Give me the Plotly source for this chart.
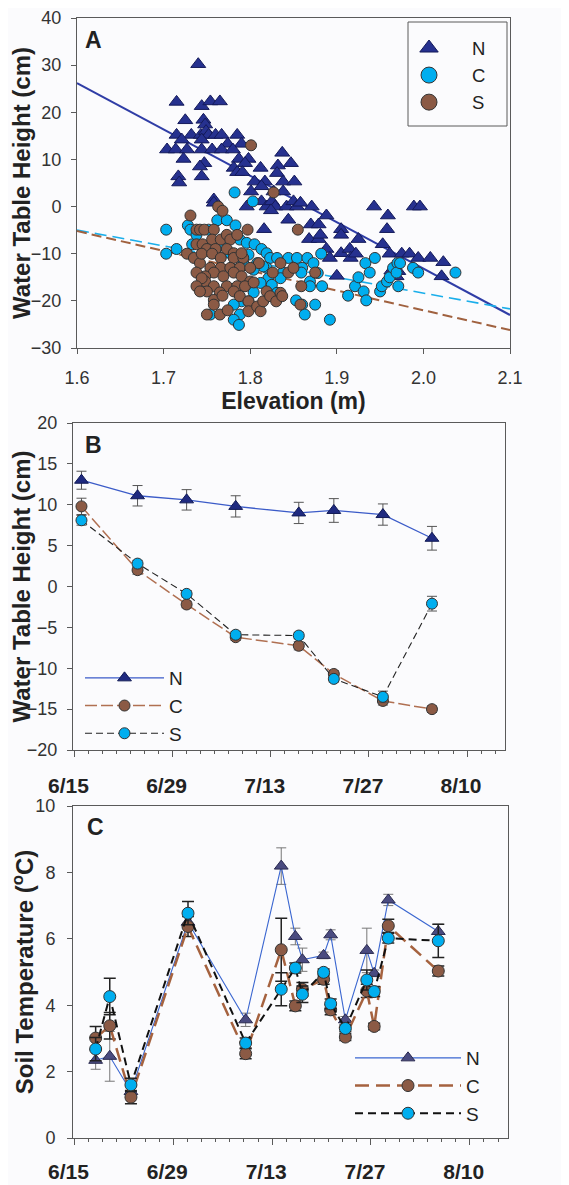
import plotly.graph_objects as go

# page shows the figure with an 8 px body margin, so the figure is sized to fit
OX, OY = 8, 8
W, H = 569 - OX, 1185 - OY

# ---------------- Panel A data (Elevation vs water table height) ----------------
nA_x = [1.740, 1.715, 1.744, 1.754, 1.765, 1.725, 1.746, 1.748, 1.715, 1.732, 1.743, 1.749,
        1.752, 1.760, 1.767, 1.785, 1.721, 1.744, 1.774, 1.790, 1.704, 1.714, 1.727, 1.744,
        1.756, 1.767, 1.780, 1.723, 1.787, 1.798, 1.747, 1.794, 1.742, 1.781, 1.785, 1.791,
        1.744, 1.717, 1.718, 1.758, 1.758, 1.812, 1.837, 1.847, 1.832, 1.831, 1.805, 1.817,
        1.838, 1.851, 1.801, 1.813, 1.827, 1.838, 1.796, 1.813, 1.819, 1.825, 1.829, 1.842,
        1.850, 1.854, 1.824, 1.858, 1.871, 1.844, 1.816, 1.870, 1.879, 1.888, 1.868, 1.879,
        1.881, 1.905, 1.905, 1.888, 1.892, 1.905, 1.915, 1.916, 1.922, 1.925, 1.900, 1.943,
        1.959, 1.958, 1.953, 1.961, 1.975, 1.984, 1.994, 2.008, 1.989, 1.996, 2.023, 2.021,
        1.969, 1.971, 1.963]
nA_y = [30.2, 22.2, 21.3, 22.3, 22.3, 18.3, 18.4, 17.4, 15.2, 15.2, 15.2, 16.0,
        15.2, 15.2, 15.2, 15.2, 14.2, 14.2, 13.3, 13.3, 12.1, 12.1, 12.1, 12.1,
        12.1, 12.1, 12.1, 10.1, 10.1, 10.1, 9.2, 9.2, 8.5, 8.2, 7.3, 7.3,
        6.4, 6.4, 5.1, 1.5, 0.8, 8.2, 11.4, 9.2, 8.7, 7.1, 5.3, 5.3,
        5.3, 5.3, 3.2, 4.3, 3.2, 3.2, 0.0, 1.1, 0.0, 1.1, 0.0, 0.0,
        1.1, 0.0, -0.8, 0.8, 0.0, -2.8, -4.8, -3.8, -3.8, -1.9, -6.9, -6.9,
        -6.0, -4.8, -6.0, -9.0, -10.9, -9.9, -9.0, -10.9, -10.0, -6.9, -14.7, 0.0,
        -1.9, -4.8, -8.0, -10.0, -10.0, -10.0, -10.9, -10.9, 0.0, 0.0, -11.8, -14.8,
        -14.8, -13.7, -13.6]

cA_x = [1.703, 1.703, 1.715, 1.728, 1.731, 1.733, 1.738, 1.752, 1.762, 1.773, 1.783, 1.782,
        1.803, 1.788, 1.796, 1.805, 1.813, 1.819, 1.823, 1.831, 1.844, 1.854, 1.866, 1.882,
        1.873, 1.860, 1.859, 1.878, 1.869, 1.869, 1.883, 1.853, 1.860, 1.875, 1.863, 1.892,
        1.819, 1.821, 1.825, 1.831, 1.812, 1.804, 1.790, 1.781, 1.788, 1.781, 1.787, 1.754,
        1.798, 1.913, 1.921, 1.925, 1.931, 1.934, 1.933, 1.938, 1.944, 1.950, 1.952, 1.958,
        1.961, 1.965, 1.970, 1.969, 1.971, 1.973, 1.988, 1.994, 2.037, 1.838, 1.835, 1.792,
        1.808, 1.798, 1.815, 1.804, 1.777, 1.767, 1.760]
cA_y = [-4.9, -10.0, -9.0, -4.0, -4.9, -8.0, -6.0, -4.9, -2.9, -2.9, -4.0, 3.0,
        1.1, -7.0, -7.7, -8.0, -9.0, -9.9, -10.9, -10.9, -10.9, -10.9, -10.9, -10.0,
        -12.0, -13.0, -14.0, -14.1, -15.9, -16.9, -16.9, -19.9, -20.8, -20.8, -22.9, -24.0,
        -13.0, -15.2, -16.6, -18.3, -16.2, -18.2, -20.1, -20.8, -22.9, -24.0, -25.1, -22.9,
        -20.1, -18.9, -16.9, -15.0, -18.0, -19.9, -12.0, -14.0, -10.9, -18.0, -16.9, -15.9,
        -15.0, -13.0, -12.0, -14.0, -16.9, -12.0, -13.0, -14.0, -14.0, -14.0, -15.2, -12.0,
        -12.0, -10.2, -12.7, -13.4, -9.9, -8.1, -9.9]

sA_x = [1.801, 1.827, 1.855, 1.797, 1.763, 1.768, 1.731, 1.727, 1.735, 1.742, 1.738, 1.742,
        1.747, 1.758, 1.738, 1.745, 1.756, 1.766, 1.773, 1.777, 1.785, 1.750, 1.760, 1.773,
        1.781, 1.744, 1.756, 1.766, 1.781, 1.792, 1.810, 1.754, 1.766, 1.777, 1.788, 1.800,
        1.758, 1.781, 1.748, 1.769, 1.790, 1.800, 1.748, 1.758, 1.773, 1.785, 1.794, 1.750,
        1.765, 1.781, 1.788, 1.758, 1.768, 1.758, 1.798, 1.798, 1.808, 1.812, 1.750, 1.765,
        1.774, 1.815, 1.819, 1.823, 1.830, 1.835, 1.837, 1.835, 1.826, 1.844, 1.850, 1.859,
        1.875, 1.858, 1.738, 1.744, 1.738, 1.742, 1.804, 1.790]
sA_y = [13.0, 3.0, -4.9, -4.9, 0.0, -0.9, -1.9, -10.0, -10.9, -12.0, -4.9, -4.9,
        -4.9, -4.9, -8.0, -8.0, -7.0, -7.0, -6.0, -7.0, -6.0, -9.0, -9.0, -9.0,
        -9.9, -10.0, -10.0, -10.9, -10.9, -10.9, -12.0, -13.0, -13.0, -13.0, -13.0, -13.0,
        -14.0, -14.0, -14.8, -14.8, -14.8, -15.9, -15.9, -16.9, -16.9, -16.9, -16.9, -18.0,
        -18.2, -18.0, -19.0, -19.8, -18.9, -20.8, -20.1, -22.2, -21.2, -22.2, -22.9, -22.9,
        -22.0, -20.1, -18.0, -19.0, -20.1, -18.3, -19.0, -12.0, -14.0, -14.0, -13.0, -16.9,
        -14.0, -20.8, -14.0, -15.2, -16.9, -18.0, -16.1, -9.9]

# regression lines (slope, intercept)
fit_x = [1.6, 2.1]
fit_N = (-98.4, 183.64)
fit_C = (-33.4, 48.44)
fit_S = (-42.0, 62.0)

# ---------------- Panel B data (water table height over time) ----------------
dates_B = ["2009-06-16", "2009-06-24", "2009-07-01", "2009-07-08",
           "2009-07-17", "2009-07-22", "2009-07-29", "2009-08-05"]
nB = [13.0, 11.1, 10.6, 9.8, 9.0, 9.3, 8.8, 5.9]
nB_err = [1.1, 1.25, 1.25, 1.3, 1.3, 1.45, 1.3, 1.45]
cB = [9.8, 2.0, -2.2, -6.2, -7.25, -10.7, -14.0, -15.0]
cB_err = [1.0, 0.5, 0.4, 0.4, 0.5, 0.4, 0.5, 0.4]
sB = [8.1, 2.8, -0.9, -5.9, -6.0, -11.3, -13.5, -2.1]
sB_err = [0.6, 0.4, 0.4, 0.4, 0.4, 0.4, 0.7, 0.9]

# ---------------- Panel C data (soil temperature over time) ----------------
dates_C = ["2009-06-18", "2009-06-20", "2009-06-23", "2009-07-01 02:00", "2009-07-09 06:00",
           "2009-07-14 07:00", "2009-07-16 07:00", "2009-07-17 07:00", "2009-07-20 07:00",
           "2009-07-21 07:00", "2009-07-23 09:00", "2009-07-26 10:00", "2009-07-27 11:00",
           "2009-07-29 11:00", "2009-08-05 13:00"]
nC = [2.34, 2.46, 1.40, 6.50, 3.56, 8.19, 6.07, 5.37, 5.50, 6.12, 3.56, 5.65, 4.96, 7.17, 6.22]
nC_err = [0.27, 0.75, 0.15, 0.25, 0.2, 0.55, 0.25, 0.35, 0.1, 0.15, 0.1, 0.67, 0.1, 0.17, 0.22]
cC = [3.01, 3.38, 1.23, 6.37, 2.54, 5.67, 3.98, 4.48, 4.78, 3.86, 3.04, 4.43, 3.36, 6.39, 5.03]
cC_err = [0.35, 0.4, 0.2, 0.3, 0.15, 0.95, 0.15, 0.2, 0.15, 0.15, 0.1, 0.2, 0.1, 0.2, 0.15]
sC = [2.68, 4.26, 1.60, 6.77, 2.86, 4.48, 5.12, 4.33, 4.99, 4.04, 3.30, 4.76, 4.41, 6.02, 5.94]
sC_err = [0.35, 0.55, 0.2, 0.35, 0.15, 0.5, 0.15, 0.25, 0.1, 0.15, 0.1, 0.3, 0.15, 0.15, 0.5]

# tick values
A_xticks = [1.6, 1.7, 1.8, 1.9, 2.0, 2.1]
A_yticks = [-30, -20, -10, 0, 10, 20, 30, 40]
B_yticks = [-20, -15, -10, -5, 0, 5, 10, 15, 20]
C_yticks = [0, 2, 4, 6, 8, 10]

# ---------------- styling ----------------
BG = "#FBFBFD"
NAVY = "#26318F"
CYAN = "#00AEEF"
BROWN = "#8B5A45"
AXC = "#5a5a5a"
TXT = "#333333"
FONT = "Liberation Sans, Arial, sans-serif"


def fx(p):
    return (p - OX) / W


def fy(p):
    return 1 - (p - OY) / H


fig = go.Figure()

# ---- Panel A ----
for (m, b), col, dash, wid in [(fit_N, "#2F3DA6", "solid", 2),
                               (fit_C, "#1AAEEA", "12px,6px", 1.6),
                               (fit_S, "#A0613F", "10px,5px", 2)]:
    fig.add_trace(go.Scatter(x=fit_x, y=[m * v + b for v in fit_x], mode="lines",
                             line=dict(color=col, width=wid, dash=dash),
                             showlegend=False, hoverinfo="skip", xaxis="x", yaxis="y"))

markA = {
    "N": dict(symbol="triangle-up", color=NAVY, line=dict(color="#141a5a", width=1)),
    "C": dict(symbol="circle", color=CYAN, line=dict(color="#333", width=1)),
    "S": dict(symbol="circle", color=BROWN, line=dict(color="#333", width=1)),
}
for name, xs, ys, sz in [("N", nA_x, nA_y, 13), ("C", cA_x, cA_y, 11), ("S", sA_x, sA_y, 11)]:
    fig.add_trace(go.Scatter(x=xs, y=ys, mode="markers", name=name,
                             marker=dict(size=sz, **markA[name]), showlegend=False,
                             xaxis="x", yaxis="y"))
# legend entries for panel A (larger keys)
for name in ["N", "C", "S"]:
    fig.add_trace(go.Scatter(x=[None], y=[None], mode="markers", name=name,
                             marker=dict(size=20, **markA[name]),
                             xaxis="x", yaxis="y", legend="legend"))

# ---- Panel B ----
fig.add_trace(go.Scatter(x=dates_B, y=nB, mode="lines+markers", name="N",
                         line=dict(color="#3B5BC8", width=1.3),
                         marker=dict(symbol="triangle-up", size=12, color="#1F2A80",
                                     line=dict(color="#111a55", width=1)),
                         error_y=dict(type="data", array=nB_err, color="#555", thickness=1, width=5),
                         xaxis="x2", yaxis="y2", legend="legend2"))
fig.add_trace(go.Scatter(x=dates_B, y=cB, mode="lines+markers", name="C",
                         line=dict(color="#B07052", width=1.5, dash="12px,4px"),
                         marker=dict(symbol="circle", size=11, color=BROWN,
                                     line=dict(color="#333", width=1)),
                         error_y=dict(type="data", array=cB_err, color="#555", thickness=1, width=5),
                         xaxis="x2", yaxis="y2", legend="legend2"))
fig.add_trace(go.Scatter(x=dates_B, y=sB, mode="lines+markers", name="S",
                         line=dict(color="#222", width=1.1, dash="7px,4px"),
                         marker=dict(symbol="circle", size=11, color=CYAN,
                                     line=dict(color="#333", width=1)),
                         error_y=dict(type="data", array=sB_err, color="#555", thickness=1, width=5),
                         xaxis="x2", yaxis="y2", legend="legend2"))

# ---- Panel C ----
fig.add_trace(go.Scatter(x=dates_C, y=nC, mode="lines+markers", name="N",
                         line=dict(color="#3A66D0", width=1.1),
                         marker=dict(symbol="triangle-up", size=12, color="#4A4B80",
                                     line=dict(color="#2a2a50", width=1)),
                         error_y=dict(type="data", array=nC_err, color="#777", thickness=1, width=5),
                         xaxis="x3", yaxis="y3", legend="legend3"))
fig.add_trace(go.Scatter(x=dates_C, y=cC, mode="lines+markers", name="C",
                         line=dict(color="#A5623F", width=2.5, dash="14px,7px"),
                         marker=dict(symbol="circle", size=12, color=BROWN,
                                     line=dict(color="#333", width=1)),
                         error_y=dict(type="data", array=cC_err, color="#222", thickness=1.5, width=6),
                         xaxis="x3", yaxis="y3", legend="legend3"))
fig.add_trace(go.Scatter(x=dates_C, y=sC, mode="lines+markers", name="S",
                         line=dict(color="#111", width=2, dash="8px,5px"),
                         marker=dict(symbol="circle", size=12, color=CYAN,
                                     line=dict(color="#333", width=1)),
                         error_y=dict(type="data", array=sC_err, color="#222", thickness=1.5, width=6),
                         xaxis="x3", yaxis="y3", legend="legend3"))

common_axis = dict(showline=True, mirror=True, linecolor=AXC, linewidth=1,
                   ticks="outside", tickcolor=AXC, showgrid=False, zeroline=False,
                   automargin=False,
                   tickfont=dict(family=FONT, size=18, color=TXT))

title_font = dict(family=FONT, size=24, color="#222", weight="bold")

day = 86400000
date_axis = dict(type="date", range=["2009-06-14 19:00", "2009-08-15 10:00"],
                 tick0="2009-06-15", dtick=14 * day, tickformat="%-m/%d",
                 ticklen=6, ticklabelshift=-6,
                 minor=dict(tick0="2009-06-15", dtick=2 * day, ticks="outside",
                            ticklen=3, tickcolor=AXC, showgrid=False))
date_font = dict(family=FONT, size=21, color="#222", weight="bold")
axis_nofont = {k: v for k, v in common_axis.items() if k != "tickfont"}

fig.update_layout(
    width=W, height=H,
    margin=dict(l=0, r=0, t=0, b=0, autoexpand=False),
    paper_bgcolor=BG, plot_bgcolor=BG,
    font=dict(family=FONT, color=TXT),
    xaxis=dict(**common_axis, domain=[fx(77), fx(510)], range=[1.6, 2.1],
               tickvals=A_xticks, tickformat=".1f", ticklen=5, ticklabelstandoff=8,
               title=dict(text="Elevation (m)", font=dict(family=FONT, size=23, color="#222", weight="bold"),
                          standoff=2),
               anchor="y"),
    yaxis=dict(**common_axis, domain=[fy(348), fy(18)], range=[-30, 40],
               tickvals=A_yticks, ticklen=5, ticklabelstandoff=6,
               title=dict(text="Water Table Height (cm)", font=title_font, standoff=0),
               anchor="x"),
    xaxis2=dict(**axis_nofont, **date_axis, domain=[fx(73), fx(505)], anchor="y2",
                ticklabelstandoff=11, tickfont=date_font),
    yaxis2=dict(**common_axis, domain=[fy(750), fy(423)], range=[-20, 20],
                tickvals=B_yticks, ticklen=5, ticklabelstandoff=6,
                title=dict(text="Water Table Height (cm)", font=title_font, standoff=1),
                anchor="x2"),
    xaxis3=dict(**axis_nofont, **date_axis, domain=[fx(73), fx(508)], anchor="y3",
                ticklabelstandoff=9, tickfont=date_font),
    yaxis3=dict(**common_axis, domain=[fy(1138), fy(806)], range=[0, 10],
                tickvals=C_yticks, ticklen=5, ticklabelstandoff=8,
                title=dict(text="Soil Temperature (<sup>o</sup>C)", font=title_font, standoff=3),
                anchor="x3"),
    legend=dict(x=fx(386), y=fy(29.5), xanchor="left", yanchor="top",
                bgcolor="rgba(0,0,0,0)", borderwidth=0, itemwidth=76,
                font=dict(family=FONT, size=18.5, color="#222")),
    legend2=dict(x=fx(80), y=fy(659), xanchor="left", yanchor="top",
                 bgcolor="rgba(0,0,0,0)", borderwidth=0, itemwidth=79,
                 font=dict(family=FONT, size=19, color="#222")),
    legend3=dict(x=fx(350), y=fy(1039), xanchor="left", yanchor="top",
                 bgcolor="rgba(0,0,0,0)", borderwidth=0, itemwidth=106,
                 font=dict(family=FONT, size=19, color="#222")),
    shapes=[dict(type="rect", xref="paper", yref="paper",
                 x0=fx(408), x1=fx(507), y0=fy(126), y1=fy(22),
                 line=dict(color=AXC, width=1), fillcolor="rgba(0,0,0,0)")],
    annotations=[
        dict(text="<b>A</b>", x=fx(93), y=fy(40), xref="paper", yref="paper",
             xanchor="center", yanchor="middle",
             showarrow=False, font=dict(family=FONT, size=23, color="#222")),
        dict(text="<b>B</b>", x=fx(93), y=fy(445), xref="paper", yref="paper",
             xanchor="center", yanchor="middle",
             showarrow=False, font=dict(family=FONT, size=23, color="#222")),
        dict(text="<b>C</b>", x=fx(95), y=fy(827), xref="paper", yref="paper",
             xanchor="center", yanchor="middle",
             showarrow=False, font=dict(family=FONT, size=23, color="#222")),
    ],
)

fig.write_html("out.html")
